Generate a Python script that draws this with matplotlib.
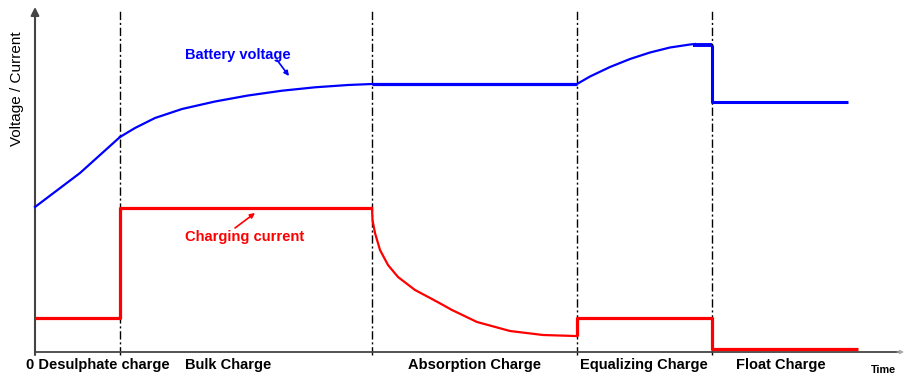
import matplotlib
matplotlib.use("Agg")
import matplotlib.pyplot as plt

plt.rcParams['font.family'] = ['Liberation Sans', 'DejaVu Sans']

# Phase boundaries (time units) and phase labels
phase_bounds = [85, 337, 542, 677]
phase_labels = ["0 Desulphate charge", "Bulk Charge", "Absorption Charge",
                "Equalizing Charge", "Float Charge"]
phase_label_x = [-9, 150, 373, 545, 701]

# Battery voltage
volt_rise_t = [0, 45, 85]
volt_rise_v = [145, 179, 215]
volt_bulk_t = [85, 100, 120, 147, 180, 213, 247, 280, 313, 337]
volt_bulk_v = [215, 224, 234, 243, 250.5, 256.5, 261.3, 264.7, 267, 268]
volt_abs_t = [337, 542]
volt_abs_v = [268, 268]
volt_eq_t = [542, 555, 575, 595, 615, 635, 655, 660]
volt_eq_v = [268, 275.5, 285, 293, 299.5, 304.5, 307.5, 308]
volt_eqhold_t = [658, 677]
volt_eqhold_v = [307, 307]
volt_float_t = [677, 677, 813]
volt_float_v = [307, 250, 250]

# Charging current
cur_step_t = [0, 85, 85, 337]
cur_step_v = [34, 34, 144, 144]
cur_decay_t = [337, 337.5, 340, 345, 353, 363, 380, 397, 408, 417, 442, 475, 508, 540, 542]
cur_decay_v = [144, 132, 119, 102, 87, 75, 62, 53, 47, 42, 30, 21, 17, 16, 16]
cur_tail_t = [542, 542, 677, 677, 823]
cur_tail_v = [16, 34, 34, 3, 3]

blue = "#0000ff"
red = "#ff0000"

fig = plt.figure(figsize=(9.05, 3.77), dpi=100)
ax = fig.add_axes([0, 0, 1, 1])
ax.set_xlim(-35, 870)
ax.set_ylim(-25, 352)
ax.axis("off")

# axes arrows
ax.annotate("", xy=(0, 345), xytext=(0, -3),
            arrowprops=dict(arrowstyle="-|>", color="#444444", lw=1.5,
                            mutation_scale=12, shrinkA=0, shrinkB=0))
ax.plot([0, 866], [0, 0], color="#444444", lw=1.3, solid_capstyle="butt")
ax.annotate("", xy=(869, 0), xytext=(862, 0),
            arrowprops=dict(arrowstyle="-|>", color="#aaaaaa", lw=0.8,
                            mutation_scale=6, shrinkA=0, shrinkB=0))

# phase boundaries
for b in phase_bounds:
    ax.plot([b, b], [-3, 342], color="black", lw=1.0,
            linestyle=(0, (6, 2, 1.5, 2)), zorder=1)

# voltage
kw_thin = dict(lw=1.6, zorder=3, solid_joinstyle="round")
ax.plot(volt_rise_t, volt_rise_v, color=blue, **kw_thin)
ax.plot(volt_bulk_t, volt_bulk_v, color=blue, **kw_thin)
ax.plot(volt_abs_t, volt_abs_v, color=blue, lw=2.3, zorder=3, solid_capstyle="butt")
ax.plot(volt_eq_t, volt_eq_v, color=blue, **kw_thin)
ax.plot(volt_eqhold_t, volt_eqhold_v, color=blue, lw=2.8, zorder=3, solid_capstyle="butt")
ax.plot(volt_float_t, volt_float_v, color=blue, lw=2.2, zorder=3, solid_capstyle="butt")

# current
ax.plot(cur_step_t, cur_step_v, color=red, lw=2.3, zorder=3, solid_capstyle="butt")
ax.plot(cur_decay_t, cur_decay_v, color=red, **kw_thin)
ax.plot(cur_tail_t, cur_tail_v, color=red, lw=2.3, zorder=3, solid_capstyle="butt")

# annotations
ax.text(150, 297, "Battery voltage", color=blue, fontsize=10.5,
        fontweight="bold", ha="left", va="center")
ax.annotate("", xy=(254, 276), xytext=(242, 292),
            arrowprops=dict(arrowstyle="-|>", color=blue, lw=1.2,
                            mutation_scale=7, shrinkA=0, shrinkB=0))
ax.text(150, 115, "Charging current", color=red, fontsize=10.6,
        fontweight="bold", ha="left", va="center")
ax.annotate("", xy=(220, 139), xytext=(200, 124),
            arrowprops=dict(arrowstyle="-|>", color=red, lw=1.2,
                            mutation_scale=7, shrinkA=0, shrinkB=0))

ax.text(-18, 263, "Voltage / Current", rotation=90, fontsize=11,
        ha="center", va="center", color="black")

for x, lab in zip(phase_label_x, phase_labels):
    ax.text(x, -13, lab, fontsize=10.5, fontweight="bold", ha="left",
            va="center", color="black")
ax.text(836, -18, "Time", fontsize=7.8, fontweight="bold", ha="left",
        va="center", color="black")

fig.savefig("out.png", dpi=100)
